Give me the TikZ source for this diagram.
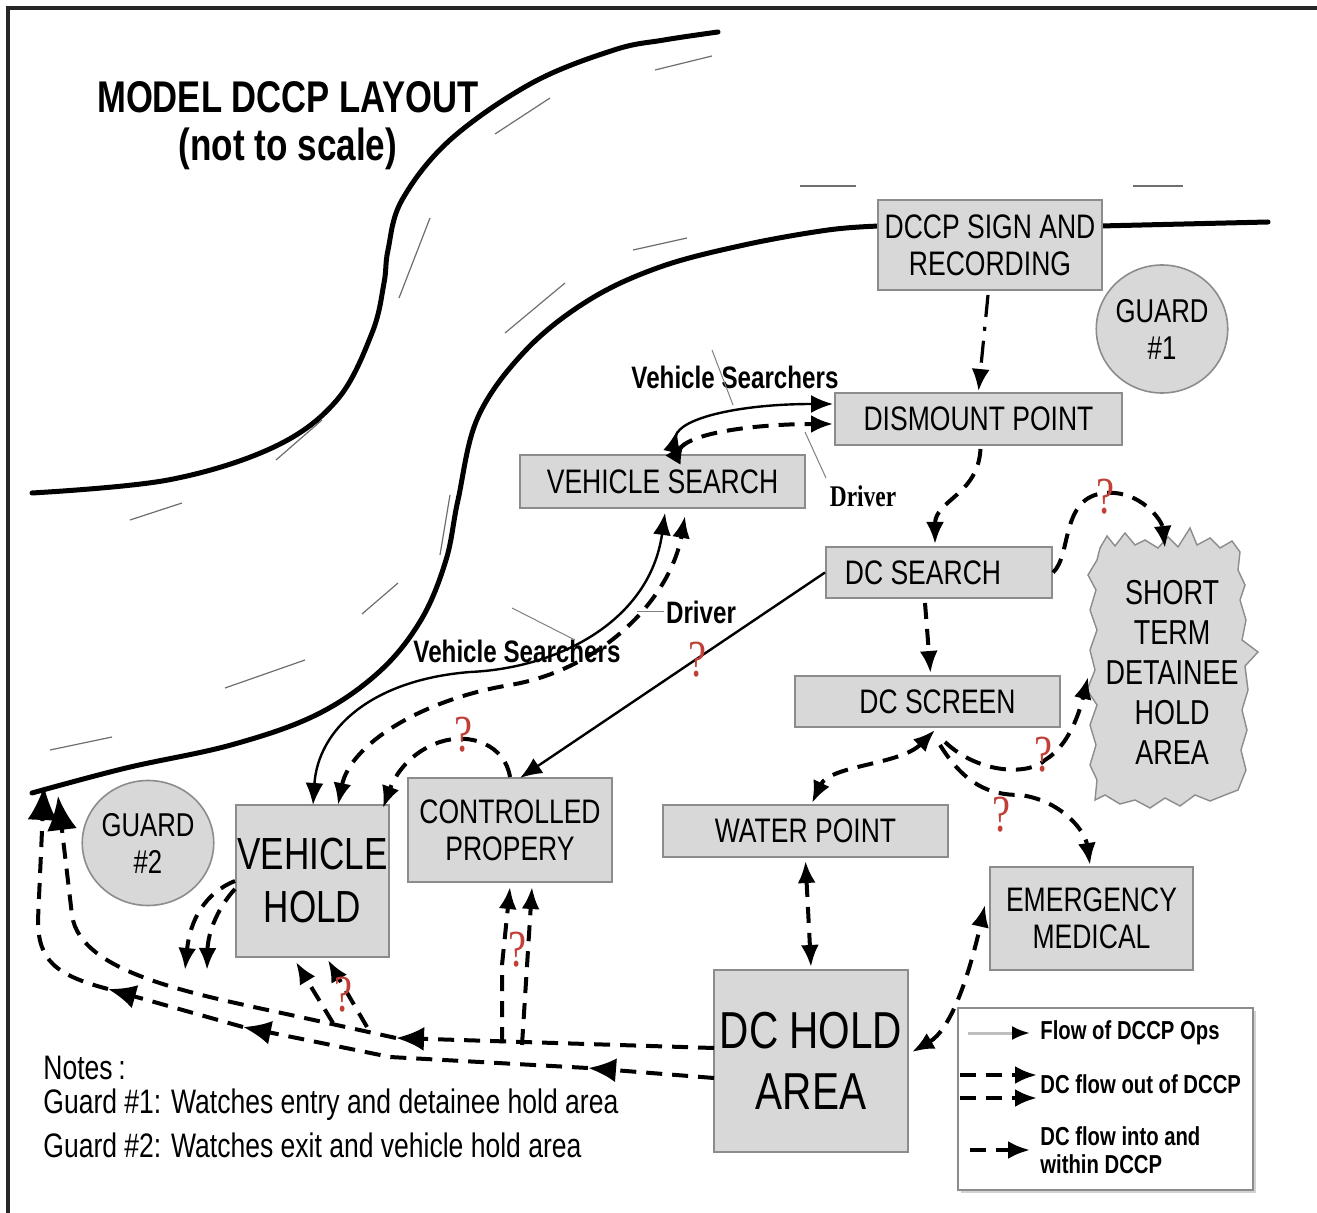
\documentclass[tikz,border=0pt]{standalone}
\usepackage{fontspec}
\setmainfont{Liberation Sans}[FakeStretch=0.78]
\newfontfamily\serifn{Liberation Serif}[FakeStretch=0.78]
\usetikzlibrary{arrows.meta,calc,shapes.geometric}
\definecolor{boxfill}{RGB}{216,216,216}
\definecolor{boxline}{RGB}{140,140,140}
\definecolor{qred}{RGB}{192,64,56}
\definecolor{lanegray}{RGB}{110,110,110}
\tikzset{
 box/.style={draw=boxline, line width=1pt, fill=boxfill, inner sep=0pt, align=center, font=\fontsize{17}{18.5}\selectfont},
 guardst/.style={ellipse, draw=boxline, line width=0.8pt, fill=boxfill, inner sep=0pt, align=center, font=\fontsize{16.5}{18.5}\selectfont},
 road/.style={line width=2.5pt, line cap=round},
 lane/.style={lanegray, line width=0.6pt},
 dflow/.style={line width=2pt, dash pattern=on 8pt off 5pt},
 sflow/.style={line width=1.2pt},
 ddflow/.style={line width=1.6pt, dash pattern=on 11pt off 5pt on 2pt off 5pt},
 qmark/.style={text=qred, font=\serifn\fontsize{26}{26}\selectfont, inner sep=0pt},
 leader/.style={line width=0.5pt, gray},
 lbl/.style={font=\bfseries\fontsize{15.5}{17}\selectfont, inner sep=0pt},
 note/.style={font=\fontsize{17}{19}\selectfont, inner sep=0pt, anchor=west},
 leg/.style={font=\bfseries\fontsize{13}{14}\selectfont, inner sep=0pt, anchor=west, align=left},
 bigtip/.style={-{Latex[length=17pt,width=15pt]}},
 midtip/.style={-{Latex[length=14pt,width=12pt]}},
}
\begin{document}
\begin{tikzpicture}[x=0.5pt,y=-0.5pt,>={Latex[length=11pt,width=9pt]}]
\useasboundingbox (0,0) rectangle (1317,1213);
\fill[white] (0,0) rectangle (1317,1213);
\draw[line width=1.6pt, black!85] (8,1213) -- (8,8) -- (1317,8);

% title
\node[font=\bfseries\fontsize{22.2}{25}\selectfont, inner sep=0pt] (title1) at (288,97) {MODEL DCCP LAYOUT};
\node[font=\bfseries\fontsize{22.5}{25}\selectfont, inner sep=0pt] (title2) at (288,149) {(not to scale)};

% lane markings
\draw[lane] (800,186) -- (856,186);
\draw[lane] (1133,186) -- (1183,186);
\draw[lane] (655,70) -- (712,56);
\draw[lane] (495,134) -- (550,98);
\draw[lane] (399,298) -- (430,218);
\draw[lane] (505,333) -- (565,283);
\draw[lane] (633,250) -- (687,238);
\draw[lane] (130,520) -- (182,503);
\draw[lane] (276,460) -- (322,420);
\draw[lane] (440,555) -- (450,495);
\draw[lane] (362,614) -- (398,583);
\draw[lane] (225,688) -- (305,660);
\draw[lane] (50,750) -- (112,737);

% roads
\draw[road] plot[smooth, tension=0.6] coordinates {(32,493) (168,480) (274,447) (337,400) (372,333) (384,283) (388,250) (402,200) (450,140) (532,83) (614,50) (664,40) (718,32)};
\draw[road] plot[smooth, tension=0.6] coordinates {(32,793) (126,768) (231,745) (316,715) (379,672) (421,620) (446,560) (458,500) (478,417) (526,350) (589,300) (660,267) (744,245) (828,230) (880,226)};
\draw[road] (1100,226) -- (1268,222);

% short term detainee hold area (jagged outline)
\filldraw[fill=boxfill, draw=boxline, line width=0.7pt]
 (1100,548) -- (1107,536) -- (1115,546) -- (1125,533) -- (1135,545) -- (1145,540) -- (1158,548) -- (1168,537) -- (1178,547) -- (1190,528) -- (1197,545) -- (1210,538) -- (1220,548) -- (1232,541) -- (1240,552) -- (1238,570) -- (1245,585) -- (1240,600) -- (1246,620) -- (1242,640) -- (1258,652) -- (1245,666) -- (1248,690) -- (1242,710) -- (1247,730) -- (1241,750) -- (1246,770) -- (1238,790) -- (1225,795) -- (1210,801) -- (1195,795) -- (1180,806) -- (1165,798) -- (1150,808) -- (1135,800) -- (1120,804) -- (1105,795) -- (1095,800) -- (1097,780) -- (1090,765) -- (1096,745) -- (1090,725) -- (1097,705) -- (1087,690) -- (1095,670) -- (1090,650) -- (1097,630) -- (1090,610) -- (1096,590) -- (1088,575) -- (1097,560) -- cycle;
\node[align=center, inner sep=0pt, font=\fontsize{17.3}{20}\selectfont] (stdha) at (1172,672) {SHORT\\TERM\\DETAINEE\\HOLD\\AREA};

% boxes
\node[box, minimum width=112pt, minimum height=45pt] (sign) at (990,245) {DCCP SIGN AND\\RECORDING};
\node[guardst, minimum width=49pt, minimum height=64pt] (g1) at (1162,329) {GUARD\\\#1};
\node[box, minimum width=143.5pt, minimum height=26pt] (dismount) at (978.5,419) {DISMOUNT POINT};
\node[box, minimum width=142.5pt, minimum height=26.5pt] (vsearch) at (662.5,481.5) {VEHICLE SEARCH};
\node[box, minimum width=113pt, minimum height=25.5pt] (dcsearch) at (939,572.5) {DC SEARCH\hspace*{16pt}};
\node[box, minimum width=132.5pt, minimum height=25.5pt] (dcscreen) at (927.5,701.5) {\hspace*{10pt}DC SCREEN};
\node[box, minimum width=142.5pt, minimum height=26pt] (water) at (805.5,831) {WATER POINT};
\node[box, minimum width=101.5pt, minimum height=51.5pt] (emerg) at (1091.5,918.5) {EMERGENCY\\MEDICAL};
\node[box, minimum width=97pt, minimum height=91pt, font=\fontsize{26}{30.5}\selectfont] (dchold) at (811,1061) {DC HOLD\\AREA};
\node[box, minimum width=102pt, minimum height=52pt] (cprop) at (510,830) {CONTROLLED\\PROPERY};
\node[box, minimum width=76.5pt, minimum height=76pt, font=\fontsize{22.5}{26.5}\selectfont] (vhold) at (312.5,881) {VEHICLE\\HOLD};
\node[guardst, minimum width=56.5pt, minimum height=62.5pt] (g2) at (148,843) {GUARD\\\#2};

% labels
\node[lbl] (vs1) at (735,377) {Vehicle Searchers};
\node[font=\serifn\bfseries\fontsize{15}{16}\selectfont, inner sep=0pt] (dr1) at (863,496) {Driver};
\node[lbl] (dr2) at (701,612) {Driver};
\node[lbl] (vs2) at (517,651) {Vehicle Searchers};
\draw[leader] (712,350) -- (733,405);
\draw[leader] (805,432) -- (826,478);
\draw[leader] (637,612) -- (664,612);
\draw[leader] (512,608) -- (575,640);

% coordinates
\coordinate (exitA) at (44,786);
\coordinate (exitB) at (58,796);
\coordinate (o0) at (714,1078);
\coordinate (o1) at (588,1068);
\coordinate (o3) at (243,1027);
\coordinate (o4) at (108,989);
\coordinate (i0) at (714,1048);
\coordinate (i1) at (522,1045);
\coordinate (i2) at (502,1043);
\coordinate (i3) at (396,1038);

% main flow
\draw[ddflow,->] ($(sign.south)+(-2,4)$) -- ($(dismount.north)+(0,-1)$);
\draw[dflow,->] ($(dismount.south)+(2,3)$) .. controls (978,495) and (935,500) .. ($(dcsearch.north)+(-4,-2)$);
\draw[dflow,->] ($(dcsearch.south)+(-14,4)$) -- ($(dcscreen.north)+(3,-2)$);
\draw[dflow,->] (dcsearch.east) .. controls (1072,555) and (1060,497) .. (1105,493) .. controls (1140,490) and (1162,520) .. (1165,548);
\draw[sflow,->] (dcsearch.west) -- (520,778);
\draw[dflow,->] (cprop.north) .. controls (505,745) and (470,732) .. (440,742) .. controls (410,752) and (395,775) .. (383,808);

% from DC screen
\draw[dflow,<->] (935,730) .. controls (900,765) and (830,765) .. (812,803);
\draw[dflow,->] (945,742) .. controls (980,775) and (1030,775) .. (1045,760) .. controls (1070,745) and (1080,710) .. (1088,677);
\draw[dflow,->] (940,745) .. controls (965,785) and (990,795) .. (1020,795) .. controls (1060,800) and (1085,830) .. (1090,865);
\draw[dflow,<->] ($(water.south)+(0,3)$) -- ($(dchold.north)+(0,-2)$);
\draw[dflow,<->] (912,1052) .. controls (950,1030) and (968,980) .. (985,905);

% vehicle search paths
\draw[sflow,<->] (313,805) .. controls (318,730) and (370,680) .. (470,672) .. controls (560,668) and (650,620) .. (665,513);
\draw[dflow,<->] (338,805) .. controls (350,745) and (420,700) .. (510,685) .. controls (600,670) and (670,600) .. (685,516);
\draw[sflow,{Latex[length=11pt,width=9pt,reversed]}->] (672,452) .. controls (680,418) and (740,404) .. (833,404);
\draw[dflow,{Latex[length=11pt,width=9pt,reversed]}->] (673,460) .. controls (690,432) and (760,424) .. (833,424);

% outflow lines
\draw[dflow,midtip] (o0) -- (o1);
\draw[dflow,midtip] (o1) -- (390,1057) -- (o3);
\draw[dflow,midtip] (o3) -- (o4);
\draw[dflow,bigtip] (o4) .. controls (55,975) and (38,960) .. (38,920) -- (exitA);
\draw[dflow,midtip] (i0) -- (i3);
\draw[dflow,bigtip] (i3) -- (300,1017) .. controls (200,995) and (80,975) .. (72,915) -- (exitB);
\draw[dflow,->] (i2) -- (502,965) -- (510,887);
\draw[dflow,->] (i1) -- (532,887);
\draw[dflow,->] (vhold.west) .. controls (205,893) and (190,920) .. (185,970);
\draw[dflow,->] ($(vhold.west)+(0,8)$) .. controls (220,905) and (208,930) .. (207,970);
\draw[dflow,->] (333,1023) -- (296,962);
\draw[dflow,->] (367,1027) -- (328,960);

% question marks
\node[qmark] (q1) at (697,660) {?};
\node[qmark] (q2) at (1105,497) {?};
\node[qmark] (q3) at (463,735) {?};
\node[qmark] (q4) at (1043,755) {?};
\node[qmark] (q5) at (1001,815) {?};
\node[qmark] (q6) at (517,950) {?};
\node[qmark] (q7) at (343,995) {?};

% notes
\node[note] (n0) at (43,1068) {Notes\,:};
\node[note] (n1) at (43,1105) {Guard \#1: Watches entry and detainee hold area};
\node[note] (n2) at (43,1145) {Guard \#2: Watches exit and vehicle hold area};

% legend
\fill[gray!35] (961,1011) rectangle (1256,1193);
\node[draw=boxline, fill=white, line width=0.8pt, minimum width=147.5pt, minimum height=91pt, inner sep=0pt] (legend) at (1105.5,1099) {};
\draw[gray!50, line width=1.5pt, -{Latex[length=9pt,width=7pt,color=black]}] (968,1033) -- (1030,1033);
\node[leg] (l1) at (1040,1033) {Flow of DCCP Ops};
\draw[dflow,->] (960,1075) -- (1037,1075);
\draw[dflow,->] (960,1098) -- (1037,1098);
\node[leg] (l2) at (1040,1084) {DC flow out of DCCP};
\draw[dflow,->] (970,1150) -- (1030,1150);
\node[leg] (l3) at (1040,1150) {DC flow into and\\within DCCP};
\end{tikzpicture}
\end{document}
